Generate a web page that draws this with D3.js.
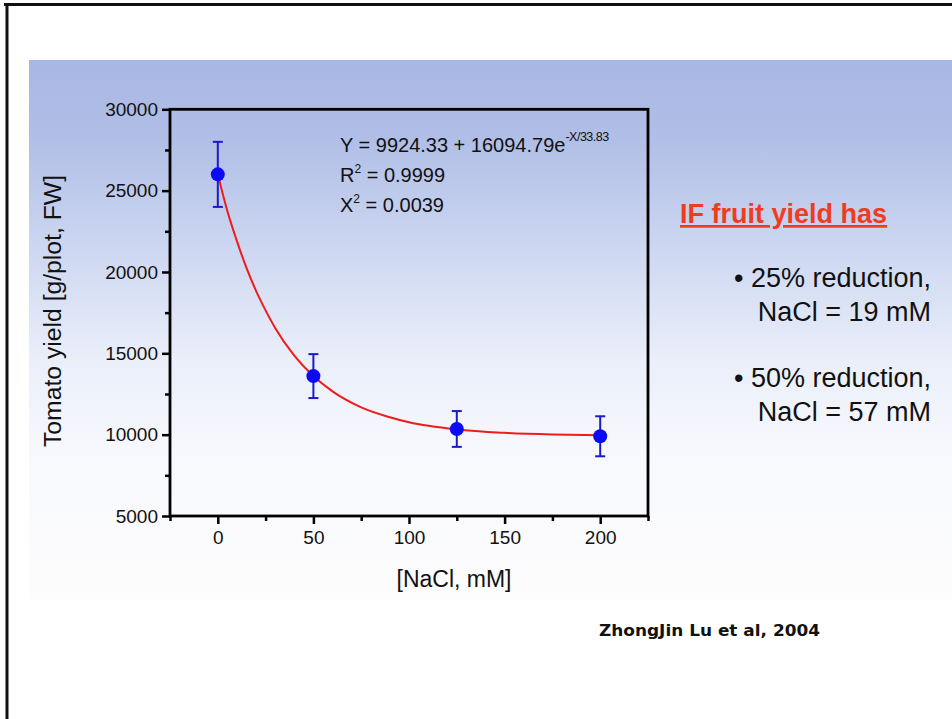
<!DOCTYPE html>
<html><head><meta charset="utf-8">
<script src="https://cdn.jsdelivr.net/npm/d3@7"></script>
<style>html,body{margin:0;padding:0;background:#fff;}svg{display:block;}</style>
</head><body>
<script>
// ---- data ----
const nacl = [0, 50, 125, 200];
const yieldMean = [26000, 13600, 10350, 9900];
const yieldErr = [2000, 1350, 1100, 1230];
// fitted curve
const curveX = [0, 5, 10, 15, 20, 25, 30, 40, 50, 60, 75, 90, 100, 125, 150, 175, 200];
const curveY = [26020, 23750, 21900, 20250, 18840, 17640, 16560, 14860, 13600, 12660, 11680, 11070, 10760, 10320, 10115, 10015, 9970];
const xMajor = [0, 50, 100, 150, 200];
const xMinor = [-25, 25, 75, 125, 175, 225];
const yMajor = [5000, 10000, 15000, 20000, 25000, 30000];
const yMinor = [7500, 12500, 17500, 22500, 27500];
const bullets = [["• 25% reduction,", "NaCl = 19 mM"], ["• 50% reduction,", "NaCl = 57 mM"]];

const W = 952, H = 719;
const svg = d3.select("body").append("svg").attr("width", W).attr("height", H);

const defs = svg.append("defs");
const g = defs.append("linearGradient").attr("id", "bg").attr("x1", 0).attr("y1", 0).attr("x2", 0).attr("y2", 1);
[[0, "#a8b7e3"], [0.15, "#b1bfe7"], [0.35, "#cdd7f1"], [0.55, "#e9eef9"], [0.72, "#f7f8fd"], [1, "#fdfdfd"]]
  .forEach(([o, c]) => g.append("stop").attr("offset", o).attr("stop-color", c));

// page frame
svg.append("rect").attr("x", 0).attr("y", 0).attr("width", W).attr("height", H).attr("fill", "#fff");
svg.append("rect").attr("x", 29).attr("y", 60).attr("width", W - 29).attr("height", 540).attr("fill", "url(#bg)");
svg.append("line").attr("x1", 4).attr("x2", W).attr("y1", 4.5).attr("y2", 4.5).attr("stroke", "#111").attr("stroke-width", 3);
svg.append("line").attr("x1", 7).attr("x2", 7).attr("y1", 3).attr("y2", H).attr("stroke", "#111").attr("stroke-width", 3);

const x = d3.scaleLinear().domain([-25, 225]).range([170, 648]);
const y = d3.scaleLinear().domain([5000, 30000]).range([516, 109.3]);
const font = "'Liberation Sans', Arial, sans-serif";

// axes
const gx = svg.append("g").attr("transform", `translate(0,${y(5000)})`)
  .call(d3.axisBottom(x).tickValues(xMajor).tickSize(8).tickPadding(7).tickFormat(d3.format("d")));
const gxm = svg.append("g").attr("transform", `translate(0,${y(5000)})`)
  .call(d3.axisBottom(x).tickValues(xMinor).tickSize(5).tickFormat(""));
const gy = svg.append("g").attr("transform", `translate(${x(-25)},0)`)
  .call(d3.axisLeft(y).tickValues(yMajor).tickSize(8).tickPadding(4).tickFormat(d3.format("d")));
const gym = svg.append("g").attr("transform", `translate(${x(-25)},0)`)
  .call(d3.axisLeft(y).tickValues(yMinor).tickSize(5).tickFormat(""));
[gx, gxm, gy, gym].forEach(a => {
  a.select(".domain").remove();
  a.selectAll(".tick line").attr("stroke", "#000").attr("stroke-width", 2.5);
  a.selectAll("text").attr("font-family", font).attr("font-size", 19).attr("fill", "#111");
});
svg.append("rect").attr("x", x(-25)).attr("y", y(30000)).attr("width", x(225) - x(-25)).attr("height", y(5000) - y(30000))
  .attr("fill", "none").attr("stroke", "#000").attr("stroke-width", 2.8);

// curve
const line = d3.line().x(d => x(d[0])).y(d => y(d[1])).curve(d3.curveMonotoneX);
svg.append("path").datum(curveX.map((v, i) => [v, curveY[i]])).attr("d", line)
  .attr("fill", "none").attr("stroke", "#ee1c1c").attr("stroke-width", 2);

// error bars + points
const pts = nacl.map((v, i) => ({x: v, y: yieldMean[i], e: yieldErr[i]}));
const eb = svg.append("g").attr("stroke", "#1a1ac8").attr("stroke-width", 2);
pts.forEach(p => {
  eb.append("line").attr("x1", x(p.x)).attr("x2", x(p.x)).attr("y1", y(p.y - p.e)).attr("y2", y(p.y + p.e));
  [p.y - p.e, p.y + p.e].forEach(v => eb.append("line").attr("x1", x(p.x) - 5).attr("x2", x(p.x) + 5).attr("y1", y(v)).attr("y2", y(v)));
});
svg.append("g").selectAll("circle").data(pts).join("circle")
  .attr("cx", d => x(d.x)).attr("cy", d => y(d.y)).attr("r", 7).attr("fill", "#0a0af5");

// axis titles
svg.append("text").attr("transform", `translate(61,311) rotate(-90)`).attr("text-anchor", "middle")
  .attr("font-family", font).attr("font-size", 23).attr("fill", "#111")
  .attr("textLength", 272).attr("lengthAdjust", "spacingAndGlyphs").text("Tomato yield [g/plot, FW]");
svg.append("text").attr("x", 454).attr("y", 587).attr("text-anchor", "middle")
  .attr("font-family", font).attr("font-size", 23).attr("fill", "#111").text("[NaCl, mM]");

// equation
const eq = svg.append("g").attr("font-family", font).attr("fill", "#111");
const t1 = eq.append("text").attr("x", 340).attr("y", 152).attr("font-size", 20);
t1.append("tspan").text("Y = 9924.33 + 16094.79e");
t1.append("tspan").attr("font-size", 12.5).attr("dy", -11).attr("letter-spacing", -0.5).text("-X/33.83");
const t2 = eq.append("text").attr("x", 340).attr("y", 182).attr("font-size", 20);
t2.append("tspan").text("R");
t2.append("tspan").attr("font-size", 12).attr("dy", -9).text("2");
t2.append("tspan").attr("dy", 9).text(" = 0.9999");
const t3 = eq.append("text").attr("x", 340).attr("y", 212).attr("font-size", 20);
t3.append("tspan").text("X");
t3.append("tspan").attr("font-size", 12).attr("dy", -9).text("2");
t3.append("tspan").attr("dy", 9).text(" = 0.0039");

// right annotation
svg.append("text").attr("x", 680).attr("y", 223).attr("font-family", font).attr("font-size", 27).attr("font-weight", "bold")
  .attr("fill", "#f03c1c").attr("text-decoration", "underline").text("IF fruit yield has");
bullets.forEach((b, i) => {
  svg.append("text").attr("x", 931).attr("y", 287 + i * 100).attr("text-anchor", "end")
    .attr("font-family", font).attr("font-size", 27).attr("fill", "#111").text(b[0]);
  svg.append("text").attr("x", 931).attr("y", 321 + i * 100).attr("text-anchor", "end")
    .attr("font-family", font).attr("font-size", 27).attr("fill", "#111").text(b[1]);
});

// citation
svg.append("text").attr("x", 599).attr("y", 636).attr("font-family", "'DejaVu Sans', sans-serif").attr("font-size", 15)
  .attr("font-weight", "bold").attr("fill", "#111").attr("textLength", 221).attr("lengthAdjust", "spacingAndGlyphs")
  .text("ZhongJin Lu et al, 2004");
</script>
</body></html>
